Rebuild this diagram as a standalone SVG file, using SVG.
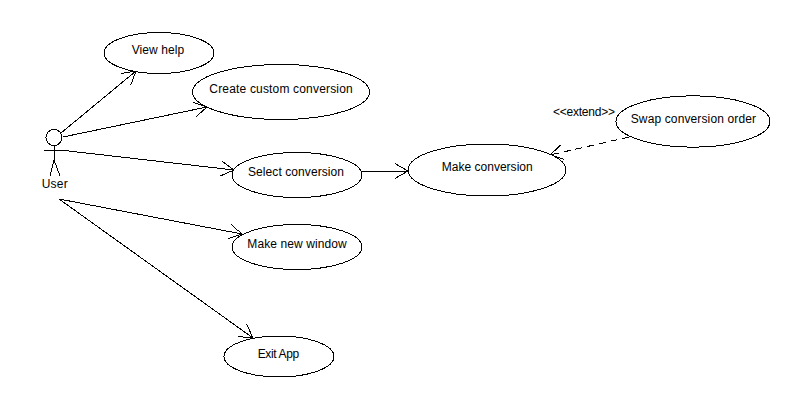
<svg xmlns="http://www.w3.org/2000/svg" width="810" height="410" viewBox="0 0 810 410">
<style>
text{font-family:"Liberation Sans",Arial,sans-serif;font-size:12px;fill:#000}
ellipse,circle{fill:#fff;stroke:#000;stroke-width:1;shape-rendering:crispEdges}
.a{fill:none;stroke:#000;stroke-width:1;shape-rendering:crispEdges}
.c{marker-end:url(#open)}
.d{stroke-dasharray:7 5}
</style>
<defs>
<marker id="open" markerUnits="userSpaceOnUse" markerWidth="16" markerHeight="18" refX="14" refY="8" orient="auto">
<path d="M1 0.5L14 8L1 15.5" fill="none" stroke="#000" stroke-width="1" shape-rendering="crispEdges"/>
</marker>
</defs>
<rect width="810" height="410" fill="#fff"/>
<g id="connectors">
<path class="a c" d="M61 133L136 71"/>
<path class="a c" d="M63 137L207 107"/>
<path class="a c" d="M60 150L234 170"/>
<path class="a c" d="M362 171L408 171"/>
<path class="a c" d="M59 199L242 234"/>
<path class="a c" d="M59 199L253 338"/>
<path class="a c d" d="M629 137L550 155"/>
</g>
<g id="user">
<circle cx="54" cy="137.5" r="8"/>
<path class="a" d="M54.5 145V160M44 150.5H64M54 160L50 176M54 160L60 176"/>
<text x="41.7" y="188" textLength="26" lengthAdjust="spacing">User</text>
</g>
<g id="view-help"><ellipse cx="159" cy="53" rx="55" ry="20.5"/><text x="131.7" y="54" textLength="52.6">View help</text></g>
<g id="create-custom-conversion"><ellipse cx="281" cy="92" rx="88.5" ry="27.5"/><text x="209.3" y="93" textLength="143.4">Create custom conversion</text></g>
<g id="select-conversion"><ellipse cx="297" cy="175" rx="65" ry="22.5"/><text x="248" y="176" textLength="96">Select conversion</text></g>
<g id="make-conversion"><ellipse cx="487" cy="170" rx="79" ry="26"/><text x="441.7" y="171" textLength="91">Make conversion</text></g>
<g id="swap-conversion-order"><ellipse cx="693" cy="121.5" rx="77" ry="25.7"/><text x="630.7" y="123" textLength="125.3">Swap conversion order</text></g>
<g id="make-new-window"><ellipse cx="297" cy="247" rx="65" ry="22.5"/><text x="247.3" y="248" textLength="99.4">Make new window</text></g>
<g id="exit-app"><ellipse cx="279" cy="356.5" rx="55" ry="20.5"/><text x="257.7" y="358" textLength="41.6">Exit App</text></g>
<text x="553" y="116" textLength="62">&lt;&lt;extend&gt;&gt;</text>
</svg>
